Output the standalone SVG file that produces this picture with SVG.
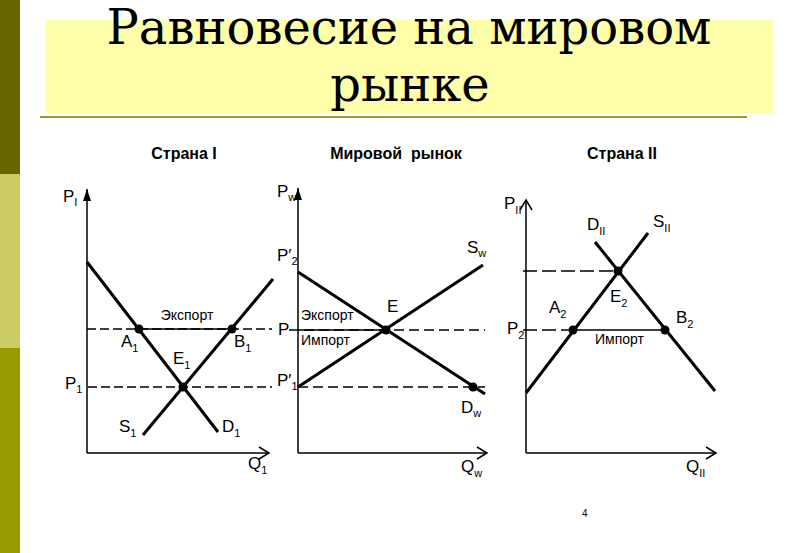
<svg xmlns="http://www.w3.org/2000/svg" width="800" height="553" viewBox="0 0 800 553">
<style>
.ax{stroke:#000;stroke-width:1.5;fill:none}
.cv{stroke:#000;stroke-width:3;fill:none;stroke-linecap:butt}
.sol{stroke:#000;stroke-width:1.5}
.d1{stroke:#000;stroke-width:1.4;stroke-dasharray:9 4;fill:none}
.d2{stroke:#000;stroke-width:1.4;stroke-dasharray:10 5;fill:none}
.d3{stroke:#000;stroke-width:1.4;stroke-dasharray:14 5;fill:none}
.dot{fill:#000}
.lb,.sb,.wd,.tt,.pg{font-family:"Liberation Sans",Arial,sans-serif;fill:#000}
.lb{font-size:17px}
.sb{font-size:11px}
.wd{font-size:14px}
.tt{font-size:16px;font-weight:bold}
.pg{font-size:10px}
</style>
<defs>
<marker id="af" viewBox="0 0 12 8" refX="12" refY="4" markerWidth="12" markerHeight="8" orient="auto" markerUnits="userSpaceOnUse"><path d="M0,0 L12,4 L0,8 z" fill="#000"/></marker>
<marker id="ao" viewBox="0 0 10 12" refX="10" refY="6" markerWidth="10" markerHeight="12" orient="auto" markerUnits="userSpaceOnUse" overflow="visible"><path d="M0,0 L10,6 L0,12" fill="none" stroke="#000" stroke-width="1.5"/></marker>
</defs>
<rect width="800" height="553" fill="#fff"/>
<g id="sidebar">
<rect x="0" y="0" width="20" height="174" fill="#666600"/>
<rect x="0" y="174" width="20" height="174" fill="#cccc66"/>
<rect x="0" y="348" width="20" height="205" fill="#999900"/>
</g>
<g id="title">
<rect x="45" y="20" width="728" height="93" fill="#ffffaa"/>
<line x1="40" y1="117" x2="747" y2="117" stroke="#999933" stroke-width="2"/>
<text x="409" y="44" text-anchor="middle" style="font-family:'DejaVu Serif',serif;font-size:48px;fill:#000">Равновесие на мировом</text>
<text x="410" y="101" text-anchor="middle" style="font-family:'DejaVu Serif',serif;font-size:48px;fill:#000">рынке</text>
</g>
<g id="connectors">
<line class="ax" x1="87" y1="453" x2="87" y2="189" marker-end="url(#af)"/>
<line class="ax" x1="87" y1="453" x2="269" y2="453" marker-end="url(#ao)"/>
<line class="d1" x1="87" y1="329" x2="272" y2="329"/>
<line class="sol" x1="140" y1="329" x2="232" y2="329"/>
<line class="d1" x1="88" y1="387" x2="272" y2="387"/>
<line class="cv" x1="87" y1="262" x2="218" y2="432"/>
<line class="cv" x1="143" y1="435" x2="273" y2="279"/>
<line class="ax" x1="298" y1="453" x2="298" y2="188" marker-end="url(#af)"/>
<line class="ax" x1="298" y1="453" x2="487" y2="453" marker-end="url(#ao)"/>
<line class="d2" x1="289" y1="330" x2="485" y2="330"/>
<line class="sol" x1="298" y1="330" x2="386" y2="330"/>
<line class="d2" x1="298" y1="387" x2="485" y2="387"/>
<line class="cv" x1="298" y1="272" x2="485" y2="394"/>
<line class="cv" x1="298" y1="387" x2="483" y2="265"/>
<line class="ax" x1="526" y1="453" x2="526" y2="200" marker-end="url(#ao)"/>
<line class="ax" x1="526" y1="453" x2="716" y2="453" marker-end="url(#ao)"/>
<line class="d3" x1="523" y1="271" x2="618" y2="271"/>
<line class="d3" x1="523" y1="330" x2="573" y2="330"/>
<line class="sol" x1="573" y1="330" x2="665" y2="330"/>
<line class="cv" x1="526" y1="393" x2="648" y2="233"/>
<line class="cv" x1="595" y1="242" x2="715" y2="391"/>
</g>
<g id="points">
<circle class="dot" cx="139" cy="329" r="4.5"/>
<circle class="dot" cx="232" cy="329" r="4.5"/>
<circle class="dot" cx="183" cy="387" r="4.5"/>
<circle class="dot" cx="386" cy="330" r="4.5"/>
<circle class="dot" cx="473" cy="387" r="4.5"/>
<circle class="dot" cx="618" cy="271" r="4.5"/>
<circle class="dot" cx="573" cy="330" r="4.5"/>
<circle class="dot" cx="665" cy="330" r="4.5"/>
</g>
<g id="panel-country1">
<text class="tt" x="184" y="159" text-anchor="middle">Страна I</text>
<text class="lb" x="63" y="202">P<tspan class="sb" dy="4">I</tspan></text>
<text class="lb" x="65" y="389">P<tspan class="sb" dy="4">1</tspan></text>
<text class="wd" x="187" y="320" text-anchor="middle">Экспорт</text>
<text class="lb" x="121" y="347">A<tspan class="sb" dy="5">1</tspan></text>
<text class="lb" x="234" y="347">B<tspan class="sb" dy="5">1</tspan></text>
<text class="lb" x="173" y="364">E<tspan class="sb" dy="5">1</tspan></text>
<text class="lb" x="119" y="432">S<tspan class="sb" dy="5">1</tspan></text>
<text class="lb" x="222" y="432">D<tspan class="sb" dy="5">1</tspan></text>
<text class="lb" x="248" y="469">Q<tspan class="sb" dy="5">1</tspan></text>
</g>
<g id="panel-world">
<text class="tt" x="396" y="159" text-anchor="middle">Мировой&#160; рынок</text>
<text class="lb" x="277" y="197">P<tspan class="sb" dy="4">w</tspan></text>
<text class="lb" x="277" y="261">P′<tspan class="sb" dy="4">2</tspan></text>
<text class="lb" x="278" y="335">P</text>
<text class="lb" x="277" y="386">P′<tspan class="sb" dy="4">1</tspan></text>
<text class="wd" x="301" y="320">Экспорт</text>
<text class="wd" x="301" y="345">Импорт</text>
<text class="lb" x="387" y="312">E</text>
<text class="lb" x="467" y="253">S<tspan class="sb" dy="4">w</tspan></text>
<text class="lb" x="461" y="413">D<tspan class="sb" dy="4">w</tspan></text>
<text class="lb" x="461" y="472">Q<tspan class="sb" dy="5">w</tspan></text>
</g>
<g id="panel-country2">
<text class="tt" x="622" y="159" text-anchor="middle">Страна II</text>
<text class="lb" x="504" y="209">P<tspan class="sb" dy="5">II</tspan></text>
<text class="lb" x="587" y="230">D<tspan class="sb" dy="5">II</tspan></text>
<text class="lb" x="653" y="227">S<tspan class="sb" dy="5">II</tspan></text>
<text class="lb" x="610" y="302">E<tspan class="sb" dy="5">2</tspan></text>
<text class="lb" x="549" y="313">A<tspan class="sb" dy="5">2</tspan></text>
<text class="lb" x="676" y="323">B<tspan class="sb" dy="5">2</tspan></text>
<text class="lb" x="507" y="334">P<tspan class="sb" dy="5">2</tspan></text>
<text class="wd" x="595" y="344">Импорт</text>
<text class="lb" x="686" y="472">Q<tspan class="sb" dy="5">II</tspan></text>
</g>
<text class="pg" x="582" y="517">4</text>
</svg>
